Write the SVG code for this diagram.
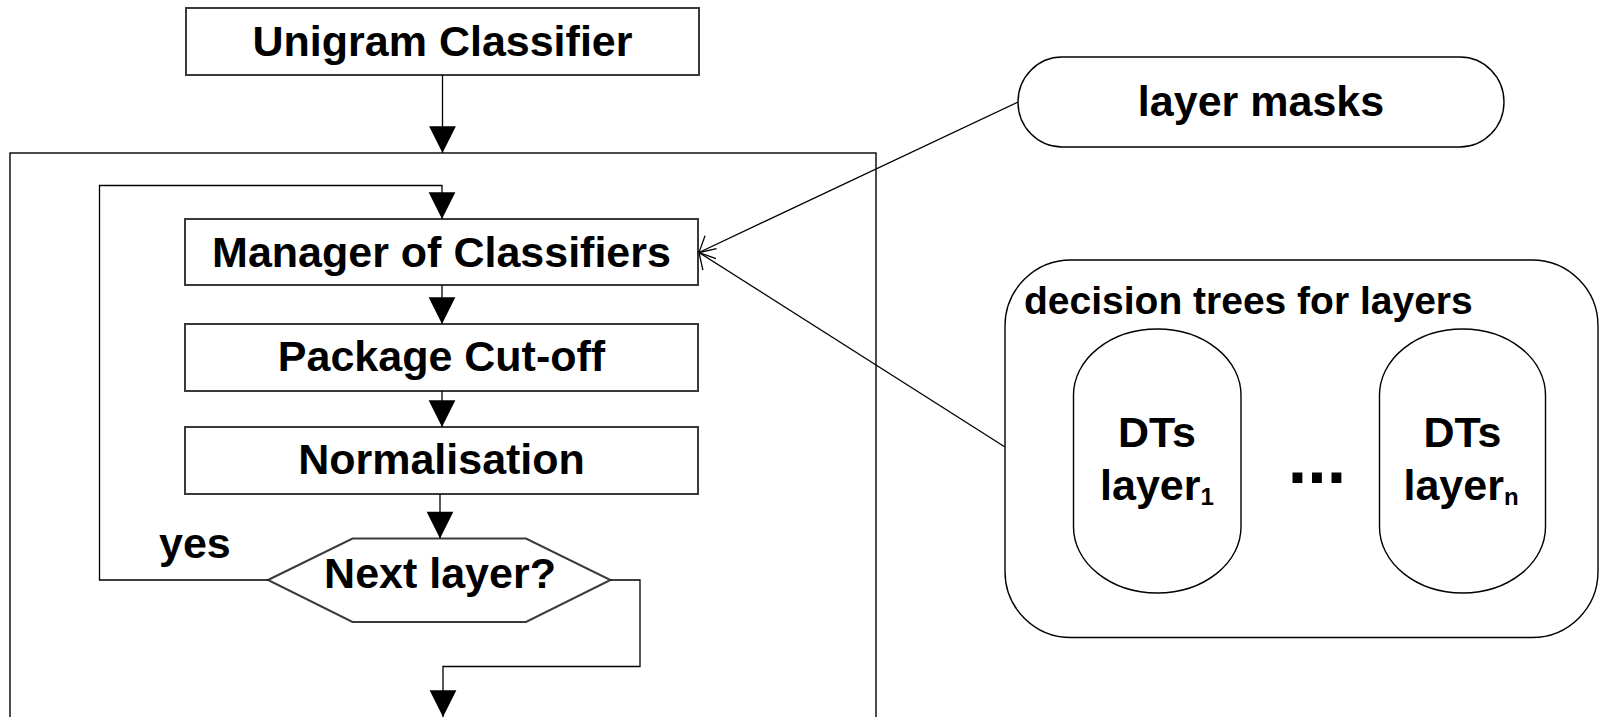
<svg xmlns="http://www.w3.org/2000/svg" width="1600" height="717" viewBox="0 0 1600 717">
  <style>
    .box { fill: #fff; stroke: #3a3a3a; stroke-width: 2; }
    .frame { fill: none; stroke: #000; stroke-width: 1.4; }
    .pill { fill: #fff; stroke: #000; stroke-width: 1.4; }
    .wire { fill: none; stroke: #000; stroke-width: 1.3; }
    .lbl { font-family: "Liberation Sans", Arial, sans-serif; font-weight: bold; font-size: 43px; fill: #000; }
    .mid { text-anchor: middle; }
  </style>
  <defs>
    <marker id="solid" markerUnits="userSpaceOnUse" markerWidth="30" markerHeight="30" viewBox="-26 -13 28 26" refX="0" refY="0" orient="auto" overflow="visible">
      <path d="M0,0 L-25,-12.5 L-25,12.5 Z" fill="#000"/>
    </marker>
    <marker id="open" markerUnits="userSpaceOnUse" markerWidth="30" markerHeight="30" viewBox="-15 -15 30 30" refX="0" refY="0" orient="auto" overflow="visible">
      <path d="M-12.7,-12.7 L0,0 L-12.7,12.7" fill="none" stroke="#000" stroke-width="1.3"/>
    </marker>
  </defs>

  <rect width="1600" height="717" fill="#fff"/>

  <!-- enclosing frame of the layer loop -->
  <rect id="loop-frame" class="frame" x="10" y="153" width="866" height="600"/>

  <g id="unigram">
    <rect class="box" x="186" y="8" width="513" height="67"/>
    <text class="lbl mid" x="442.5" y="56">Unigram Classifier</text>
  </g>

  <g id="manager">
    <rect class="box" x="185" y="219" width="513" height="66"/>
    <text class="lbl mid" x="441.5" y="266.5">Manager of Classifiers</text>
  </g>

  <g id="cutoff">
    <rect class="box" x="185" y="324" width="513" height="67"/>
    <text class="lbl mid" x="441.5" y="371">Package Cut-off</text>
  </g>

  <g id="normalisation">
    <rect class="box" x="185" y="427" width="513" height="67"/>
    <text class="lbl mid" x="441.5" y="473.5">Normalisation</text>
  </g>

  <g id="next-layer">
    <polygon class="box" points="268,580 352.5,538.5 526,538.5 610.5,580 526,622 352.5,622"/>
    <text class="lbl mid" x="440" y="588">Next layer?</text>
  </g>

  <g id="layer-masks">
    <rect class="pill" x="1018" y="57" width="486" height="90" rx="44" ry="45"/>
    <text class="lbl mid" x="1261" y="116">layer masks</text>
  </g>

  <g id="decision-trees">
    <rect class="pill" x="1005" y="260" width="593" height="377.5" rx="66" ry="66"/>
    <text class="lbl" x="1024" y="314" style="font-size:39px">decision trees for layers</text>
  </g>

  <g id="dts-layer-1">
    <rect class="pill" x="1073.5" y="329" width="167.5" height="264" rx="83.7" ry="66"/>
    <text class="lbl mid" x="1157" y="447">DTs</text>
    <text class="lbl mid" x="1157" y="500">layer<tspan style="font-size:24px" dy="5">1</tspan></text>
  </g>

  <g id="dts-layer-n">
    <rect class="pill" x="1379.5" y="329" width="166" height="264" rx="83" ry="66"/>
    <text class="lbl mid" x="1462.5" y="447">DTs</text>
    <text class="lbl mid" x="1461" y="500">layer<tspan style="font-size:24px" dy="5">n</tspan></text>
  </g>

  <g id="ellipsis">
    <text class="lbl mid" x="1317" y="483" style="font-size:70px">...</text>
  </g>

  <g id="connectors">
    <!-- main flow -->
    <line class="wire" x1="442.5" y1="75" x2="442.5" y2="153" marker-end="url(#solid)"/>
    <polyline class="wire" points="268,580 99.5,580 99.5,185.5 442,185.5 442,219" marker-end="url(#solid)"/>
    <line class="wire" x1="442" y1="285" x2="442" y2="324" marker-end="url(#solid)"/>
    <line class="wire" x1="442" y1="391" x2="442" y2="427" marker-end="url(#solid)"/>
    <line class="wire" x1="440" y1="494" x2="440" y2="538.5" marker-end="url(#solid)"/>
    <polyline class="wire" points="610.5,580 640,580 640,666.5 443,666.5 443,717" marker-end="url(#solid)"/>
    <text class="lbl" x="159" y="558">yes</text>
    <!-- inputs of the manager -->
    <line class="wire" x1="1018" y1="102" x2="699" y2="252.5" marker-end="url(#open)"/>
    <line class="wire" x1="1005" y1="447" x2="699" y2="252.5" marker-end="url(#open)"/>
  </g>
</svg>
